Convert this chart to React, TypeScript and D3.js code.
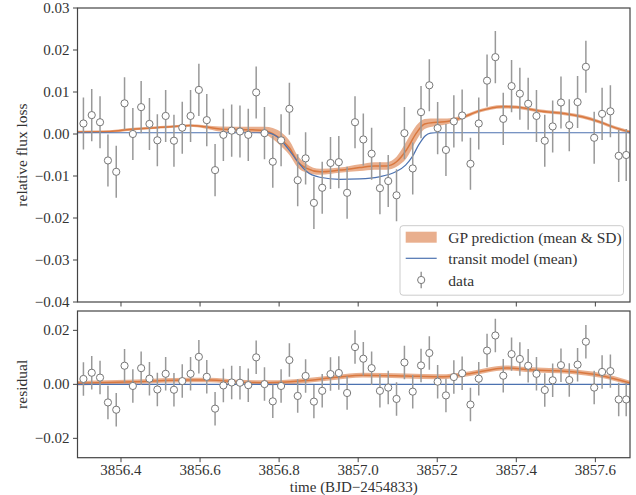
import React from 'react';
import * as d3 from 'd3';

// ---------- data ----------
const times = [
  3856.305, 3856.326, 3856.347, 3856.367, 3856.388, 3856.409, 3856.430, 3856.451, 3856.472, 3856.492,
  3856.513, 3856.534, 3856.555, 3856.576, 3856.597, 3856.617, 3856.638, 3856.659, 3856.680, 3856.701,
  3856.722, 3856.742, 3856.763, 3856.784, 3856.805, 3856.826, 3856.847, 3856.867, 3856.888, 3856.909,
  3856.930, 3856.951, 3856.972, 3856.992, 3857.013, 3857.034, 3857.055, 3857.076, 3857.097, 3857.117,
  3857.138, 3857.159, 3857.180, 3857.201, 3857.222, 3857.242, 3857.263, 3857.284, 3857.305, 3857.326,
  3857.347, 3857.367, 3857.388, 3857.409, 3857.430, 3857.451, 3857.472, 3857.492, 3857.513, 3857.534,
  3857.555, 3857.576, 3857.597, 3857.617, 3857.638, 3857.659, 3857.678,
];
const flux = [
  0.0025, 0.0045, 0.0028, -0.0063, -0.0090, 0.0073, 0.0000, 0.0064, 0.0024, -0.0015,
  0.0043, -0.0016, 0.0015, 0.0043, 0.0105, 0.0033, -0.0086, -0.0002, 0.0008, 0.0006,
  -0.0002, 0.0099, 0.0002, -0.0066, -0.0015, 0.0060, -0.0110, -0.0058, -0.0164, -0.0128,
  -0.0069, -0.0067, -0.0140, 0.0028, -0.0013, -0.0047, -0.0129, -0.0112, -0.0146, 0.0002,
  -0.0082, 0.0052, 0.0116, 0.0014, -0.0038, 0.0030, 0.0044, -0.0071, 0.0025, 0.0127,
  0.0183, 0.0036, 0.0114, 0.0096, 0.0072, 0.0043, -0.0016, 0.0018, 0.0075, 0.0021,
  0.0076, 0.0160, -0.0009, 0.0048, 0.0054, -0.0052, -0.0050,
];
const resid = [
  0.0020, 0.0043, 0.0025, -0.0067, -0.0094, 0.0069, -0.0006, 0.0060, 0.0021, -0.0019,
  0.0039, -0.0020, 0.0012, 0.0039, 0.0102, 0.0028, -0.0090, -0.0004, 0.0007, 0.0006,
  -0.0003, 0.0100, 0.0001, -0.0063, -0.0006, 0.0090, -0.0043, 0.0031, -0.0064, -0.0024,
  0.0038, 0.0042, -0.0032, 0.0138, 0.0095, 0.0060, -0.0024, -0.0012, -0.0054, 0.0081,
  -0.0027, 0.0070, 0.0116, 0.0010, -0.0041, 0.0027, 0.0041, -0.0075, 0.0021, 0.0125,
  0.0181, 0.0032, 0.0112, 0.0094, 0.0069, 0.0039, -0.0021, 0.0015, 0.0071, 0.0016,
  0.0073, 0.0158, -0.0012, 0.0046, 0.0049, -0.0056, -0.0056,
];
const fluxErr = 0.0062;

const modelT = [
  3856.290, 3856.764, 3856.776, 3856.789, 3856.802, 3856.814, 3856.827, 3856.847, 3856.868, 3856.903,
  3856.953, 3857.004, 3857.053, 3857.095, 3857.120, 3857.137, 3857.153, 3857.170, 3857.183, 3857.195,
  3857.690,
];
const modelFlux = [
  0.0003, 0.0003, 0.0002, -0.0003, -0.0012, -0.0025, -0.0040, -0.0066, -0.0088, -0.0103,
  -0.0108, -0.0107, -0.0102, -0.0090, -0.0074, -0.0054, -0.0026, -0.0004, 0.0002, 0.0003,
  0.0003,
];

const gpT = [
  3856.290, 3856.372, 3856.423, 3856.524, 3856.574, 3856.612, 3856.650, 3856.733, 3856.764, 3856.784,
  3856.809, 3856.827, 3856.847, 3856.870, 3856.903, 3856.953, 3857.004, 3857.041, 3857.072, 3857.097,
  3857.122, 3857.147, 3857.168, 3857.198, 3857.225, 3857.256, 3857.307, 3857.365, 3857.400, 3857.458,
  3857.526, 3857.567, 3857.610, 3857.653, 3857.690,
];
const gpMean = [
  0.0005, 0.0006, 0.0011, 0.0017, 0.0020, 0.0017, 0.0012, 0.0010, 0.0008, 0.0001,
  -0.0016, -0.0034, -0.0066, -0.0082, -0.0090, -0.0086, -0.0080, -0.0076, -0.0076, -0.0066,
  -0.0038, 0.0002, 0.0024, 0.0028, 0.0030, 0.0037, 0.0055, 0.0065, 0.0064, 0.0055,
  0.0048, 0.0041, 0.0029, 0.0014, 0.0004,
];
const gpSd = [
  0.0003, 0.0003, 0.0003, 0.0003, 0.0003, 0.0004, 0.0006, 0.0007, 0.0009, 0.0013,
  0.0017, 0.0017, 0.0014, 0.0010, 0.0007, 0.0006, 0.0008, 0.0009, 0.0009, 0.0012,
  0.0020, 0.0018, 0.0012, 0.0009, 0.0007, 0.0005, 0.0004, 0.0004, 0.0004, 0.0004,
  0.0004, 0.0004, 0.0004, 0.0004, 0.0004,
];

const gpResT = [
  3856.290, 3856.440, 3856.567, 3856.625, 3856.693, 3856.776, 3856.860, 3856.945, 3857.011, 3857.122,
  3857.206, 3857.274, 3857.375, 3857.425, 3857.541, 3857.610, 3857.690,
];
const gpResMean = [
  0.0004, 0.0010, 0.0016, 0.0016, 0.0009, 0.0006, 0.0013, 0.0026, 0.0034, 0.0031,
  0.0028, 0.0038, 0.0061, 0.0055, 0.0047, 0.0034, 0.0004,
];
const gpResSd = [
  0.0008, 0.0008, 0.0008, 0.0008, 0.0008, 0.0009, 0.0009, 0.0009, 0.0009, 0.0009,
  0.0009, 0.0009, 0.0009, 0.0009, 0.0009, 0.0009, 0.0008,
];

const xTicks = [3856.4, 3856.6, 3856.8, 3857.0, 3857.2, 3857.4, 3857.6];
const yTicksTop = [0.03, 0.02, 0.01, 0.0, -0.01, -0.02, -0.03, -0.04];
const yTicksBottom = [0.02, 0.0, -0.02];

// ---------- styling ----------
const W = 636;
const H = 495;
const FONT = '"Liberation Serif", "Times New Roman", "DejaVu Serif", serif';
const BLUE = '#4c72b0';
const ORANGE = '#dd8452';
const ORANGE_LINE = '#d9783f';
const SPINE = '#444';
const TEXT = '#333';

const left = 77.5;
const right = 630;
const topPanel = { y0: 8, y1: 302 };
const botPanel = { y0: 311, y1: 457.7 };

const x = d3.scaleLinear().domain([3856.29, 3857.6876]).range([left, right]);
const yTop = d3.scaleLinear().domain([-0.04, 0.03]).range([topPanel.y1, topPanel.y0]);
const yBot = d3.scaleLinear().domain([-0.02717, 0.02717]).range([botPanel.y1, botPanel.y0]);

const fmtY = d3.format('.2f');
const fmtX = d3.format('.1f');

function Panel({ y, id, obs, ticks, gT, gM, gS, mT, mV, showXLabels }: any) {
  const bandData = gT.map((t: number, i: number) => ({ t, m: gM[i], s: gS[i] }));
  const area = d3
    .area<any>()
    .x((d) => x(d.t))
    .y0((d) => y(d.m - d.s))
    .y1((d) => y(d.m + d.s))
    .curve(d3.curveMonotoneX);
  const meanLine = d3
    .line<any>()
    .x((d) => x(d.t))
    .y((d) => y(d.m))
    .curve(d3.curveMonotoneX);
  const modelData = mT.map((t: number, i: number) => ({ t, v: mV[i] }));
  const modelLine = d3
    .line<any>()
    .x((d) => x(d.t))
    .y((d) => y(d.v))
    .curve(d3.curveMonotoneX);
  const [r0, r1] = y.range();
  const yb = r0;
  const yt = r1;
  return (
    <g>
      <defs>
        <clipPath id={id}>
          <rect x={left} y={yt} width={right - left} height={yb - yt} />
        </clipPath>
      </defs>
      <g clipPath={`url(#${id})`}>
        <path d={area(bandData) || ''} fill={ORANGE} fillOpacity={0.65} stroke="none" />
        <path d={meanLine(bandData) || ''} fill="none" stroke={ORANGE_LINE} strokeWidth={1.5} />
        <path d={modelLine(modelData) || ''} fill="none" stroke={BLUE} strokeWidth={1.2} />
        {times.map((t, i) => (
          <line
            key={'e' + i}
            x1={x(t)}
            x2={x(t)}
            y1={y(obs[i] - fluxErr)}
            y2={y(obs[i] + fluxErr)}
            stroke="#999"
            strokeWidth={1.5}
          />
        ))}
        {times.map((t, i) => (
          <circle key={'c' + i} cx={x(t)} cy={y(obs[i])} r={3.6} fill="#fff" stroke="#777" strokeWidth={1} />
        ))}
      </g>
      {ticks.map((v: number) => (
        <g key={'yt' + v}>
          <line x1={left - 4.5} x2={left} y1={y(v)} y2={y(v)} stroke={SPINE} strokeWidth={1} />
          <text
            x={left - 8}
            y={y(v)}
            textAnchor="end"
            dominantBaseline="central"
            fontFamily={FONT}
            fontSize={15}
            fill={TEXT}
          >
            {fmtY(v)}
          </text>
        </g>
      ))}
      {xTicks.map((v) => (
        <g key={'xt' + v}>
          <line x1={x(v)} x2={x(v)} y1={yb} y2={yb + 4.5} stroke={SPINE} strokeWidth={1} />
          {showXLabels && (
            <text x={x(v)} y={yb + 17} textAnchor="middle" fontFamily={FONT} fontSize={15} fill={TEXT}>
              {fmtX(v)}
            </text>
          )}
        </g>
      ))}
      <rect x={left} y={yt} width={right - left} height={yb - yt} fill="none" stroke={SPINE} strokeWidth={1.2} />
    </g>
  );
}

export default function App() {
  const lx = 405.7;
  const ly = 225.7;
  return (
    <svg
      width={W}
      height={H}
      viewBox={`0 0 ${W} ${H}`}
      style={{ position: 'absolute', left: 0, top: 0, background: '#fff' }}
    >
      <rect x={0} y={0} width={W} height={H} fill="#fff" />
      <Panel
        y={yTop}
        id="clipTop"
        obs={flux}
        ticks={yTicksTop}
        gT={gpT}
        gM={gpMean}
        gS={gpSd}
        mT={modelT}
        mV={modelFlux}
        showXLabels={false}
      />
      <Panel
        y={yBot}
        id="clipBot"
        obs={resid}
        ticks={yTicksBottom}
        gT={gpResT}
        gM={gpResMean}
        gS={gpResSd}
        mT={[3856.29, 3857.69]}
        mV={[0, 0]}
        showXLabels={true}
      />
      <text
        transform={`translate(21,${(topPanel.y0 + topPanel.y1) / 2}) rotate(-90)`}
        textAnchor="middle"
        dominantBaseline="central"
        fontFamily={FONT}
        fontSize={15.5}
        fill={TEXT}
      >
        relative flux loss
      </text>
      <text
        transform={`translate(21,${yBot(0)}) rotate(-90)`}
        textAnchor="middle"
        dominantBaseline="central"
        fontFamily={FONT}
        fontSize={15.5}
        fill={TEXT}
      >
        residual
      </text>
      <text x={(left + right) / 2} y={491.5} textAnchor="middle" fontFamily={FONT} fontSize={15} fill={TEXT}>
        time (BJD−2454833)
      </text>
      <g>
        <rect x={400} y={ly} width={223.5} height={69.5} rx={3} fill="#fff" fillOpacity={0.85} stroke="#ccc" strokeWidth={1} />
        <rect x={lx} y={ly + 6} width={31} height={11} fill={ORANGE} fillOpacity={0.65} />
        <text x={448.3} y={ly + 11.5} dominantBaseline="central" fontFamily={FONT} fontSize={15.5} fill={TEXT}>
          GP prediction (mean &amp; SD)
        </text>
        <line x1={lx} x2={lx + 31} y1={ly + 32.6} y2={ly + 32.6} stroke={BLUE} strokeWidth={1.2} />
        <text x={448.3} y={ly + 32.6} dominantBaseline="central" fontFamily={FONT} fontSize={15.5} fill={TEXT}>
          transit model (mean)
        </text>
        <line x1={lx + 15.5} x2={lx + 15.5} y1={ly + 46} y2={ly + 62.5} stroke="#999" strokeWidth={1.5} />
        <circle cx={lx + 15.5} cy={ly + 54.3} r={3.6} fill="#fff" stroke="#777" strokeWidth={1} />
        <text x={448.3} y={ly + 54.3} dominantBaseline="central" fontFamily={FONT} fontSize={15.5} fill={TEXT}>
          data
        </text>
      </g>
    </svg>
  );
}
